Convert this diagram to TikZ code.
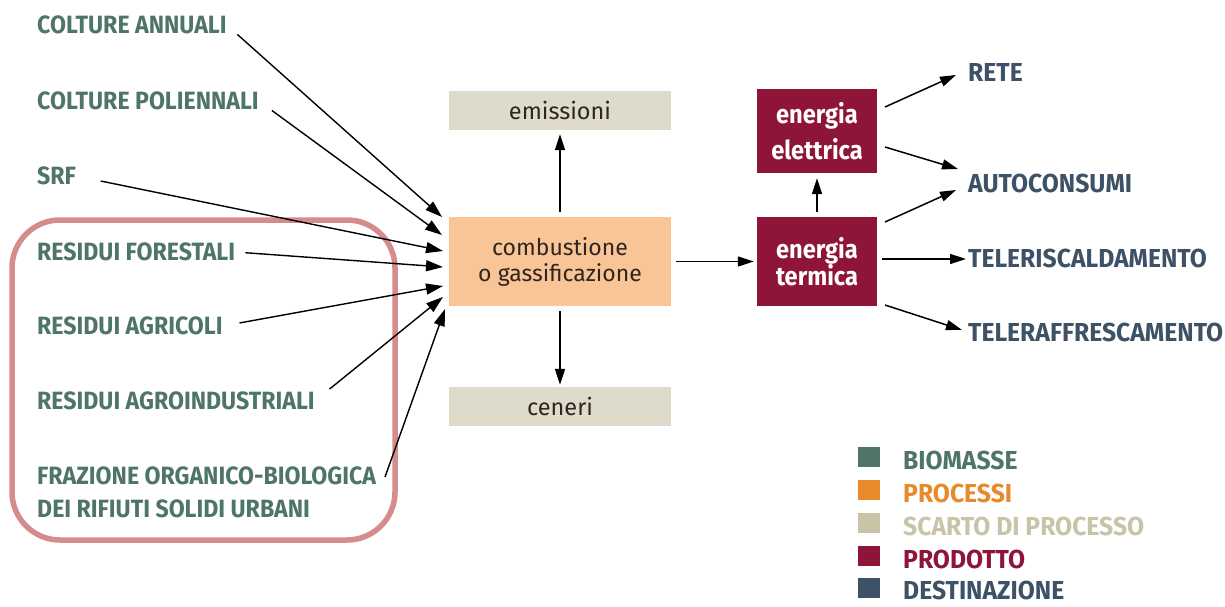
\documentclass[tikz,border=0pt]{standalone}
\usepackage{fontspec}
\setmainfont{Fira Sans}
\newfontfamily\labfont[FakeStretch=0.925]{Fira Sans}
\newfontfamily\destfont[FakeStretch=0.95]{Fira Sans}
\newfontfamily\prodfont[FakeStretch=0.91]{Fira Sans}
\usetikzlibrary{arrows.meta}
\definecolor{bio}{HTML}{4E7565}
\definecolor{proc}{HTML}{E8892A}
\definecolor{scarto}{HTML}{C8C4A8}
\definecolor{prod}{HTML}{8E1538}
\definecolor{dest}{HTML}{3D5266}
\definecolor{procfill}{HTML}{F9C496}
\definecolor{scartofill}{HTML}{DEDBCB}
\definecolor{frame}{HTML}{D68C8C}
\definecolor{boxtext}{HTML}{2E2620}
\begin{document}
\begin{tikzpicture}[x=1pt,y=-1pt,
  lab/.style={anchor=west,inner sep=0pt,font=\labfont\bfseries\fontsize{25}{33}\selectfont,align=left},
  biolab/.style={lab,text=bio},
  destlab/.style={anchor=west,inner sep=0pt,font=\destfont\bfseries\fontsize{26}{30}\selectfont,text=dest},
  leglab/.style={anchor=west,inner sep=0pt,font=\destfont\bfseries\fontsize{26}{30}\selectfont},
  procbox/.style={fill=procfill,minimum width=222pt,minimum height=89pt,inner sep=0pt,text=boxtext,font=\fontsize{23}{26}\selectfont,align=center},
  scartobox/.style={fill=scartofill,minimum width=222pt,minimum height=39pt,inner sep=0pt,text=boxtext,font=\fontsize{23.5}{26}\selectfont},
  prodbox/.style={fill=prod,minimum width=120pt,inner sep=0pt,text=white,align=center},
  arr/.style={line width=1.4pt,-{Triangle[length=17pt,width=11pt]}},
  arrs/.style={line width=1.5pt,-{Triangle[length=16pt,width=10pt]}},
  legsq/.style={minimum width=22pt,minimum height=20pt,inner sep=0pt}
]
\useasboundingbox (0,0) rectangle (1225,607);
\fill[white] (0,0) rectangle (1225,607);

% frame around residues
\draw[frame,line width=5.5pt,rounded corners=48pt] (12,220) rectangle (395,540);

% left labels
\node[biolab] (ca) at (37,25) {COLTURE ANNUALI};
\node[biolab] (cp) at (37,101) {COLTURE POLIENNALI};
\node[biolab] (srf) at (37,176) {SRF};
\node[biolab] (rf) at (37,252) {RESIDUI FORESTALI};
\node[biolab] (ra) at (37,326) {RESIDUI AGRICOLI};
\node[biolab] (rai) at (37,401) {RESIDUI AGROINDUSTRIALI};
\node[biolab,anchor=north west] (fr) at (37,467) {FRAZIONE ORGANICO-BIOLOGICA\\DEI RIFIUTI SOLIDI URBANI};

% central boxes
\node[procbox] (comb) at (560,261.5) {combustione\\o gassificazione};
\node[scartobox] (emi) at (560,110.5) {emissioni};
\node[scartobox] (cen) at (560,406.5) {ceneri};
\node[prodbox,minimum height=84pt,font=\prodfont\bfseries\fontsize{26}{36}\selectfont] (ele) at (817,131) {energia\\elettrica};
\node[prodbox,minimum height=89pt,font=\prodfont\bfseries\fontsize{26}{27}\selectfont] (ter) at (817,261.5) {energia\\termica};

% destinations
\node[destlab] (rete) at (968,72) {RETE};
\node[destlab] (auto) at (968,183) {AUTOCONSUMI};
\node[destlab] (tris) at (968,258) {TELERISCALDAMENTO};
\node[destlab] (traf) at (968,332) {TELERAFFRESCAMENTO};

% arrow tip coordinates at combustione
\coordinate (t1) at (442,217);
\coordinate (t2) at (442,235);
\coordinate (t3) at (443,251);
\coordinate (t4) at (443,267);
\coordinate (t5) at (443,286);
\coordinate (t6) at (443,297);
\coordinate (t7) at (445,309);
\coordinate (s7) at (385,477);

\draw[arr,shorten <=14pt] (ca.east) -- (t1);
\draw[arr,shorten <=16pt] (cp.east) -- (t2);
\draw[arr,shorten <=25pt] (srf.east) -- (t3);
\draw[arr,shorten <=10pt] (rf.east) -- (t4);
\draw[arr,shorten <=17pt] (ra.east) -- (t5);
\draw[arr,shorten <=19pt] (rai.east) -- (t6);
\draw[arr] (s7) -- (t7);

% process arrows
\draw[arrs,shorten <=5pt,shorten >=4pt] (comb.north) -- (emi.south);
\draw[arrs,shorten <=5pt,shorten >=2pt] (comb.south) -- (cen.north);
\draw[arrs,shorten <=5pt,shorten >=3pt] (comb.east) -- (ter.west);
\draw[arrs,shorten <=5pt,shorten >=5pt] (ter.north) -- (ele.south);

% outputs
\coordinate (e1) at (885,107);
\coordinate (e2) at (885,147);
\coordinate (h1) at (885,222);
\coordinate (h2) at (882,259);
\coordinate (h3) at (885,305);
\draw[arrs] (e1) -- ([shift={(-12pt,-3pt)}]rete.west);
\draw[arrs] (e2) -- ([shift={(-10pt,14pt)}]auto.west);
\draw[arrs] (h1) -- ([shift={(-12pt,-7pt)}]auto.west);
\draw[arrs] (h2) -- ([shift={(-2pt,-1pt)}]tris.west);
\draw[arrs] (h3) -- ([shift={(-6pt,2pt)}]traf.west);

% legend
\node[legsq,fill=bio] (l1) at (869,457) {};
\node[legsq,fill=proc] (l2) at (869,490) {};
\node[legsq,fill=scarto] (l3) at (869,523) {};
\node[legsq,fill=prod] (l4) at (869,556) {};
\node[legsq,fill=dest] (l5) at (869,588) {};
\node[leglab,text=bio] (lt1) at (903,460) {BIOMASSE};
\node[leglab,text=proc] (lt2) at (903,493) {PROCESSI};
\node[leglab,text=scarto] (lt3) at (903,526) {SCARTO DI PROCESSO};
\node[leglab,text=prod] (lt4) at (903,559) {PRODOTTO};
\node[leglab,text=dest] (lt5) at (903,590) {DESTINAZIONE};
\end{tikzpicture}
\end{document}
